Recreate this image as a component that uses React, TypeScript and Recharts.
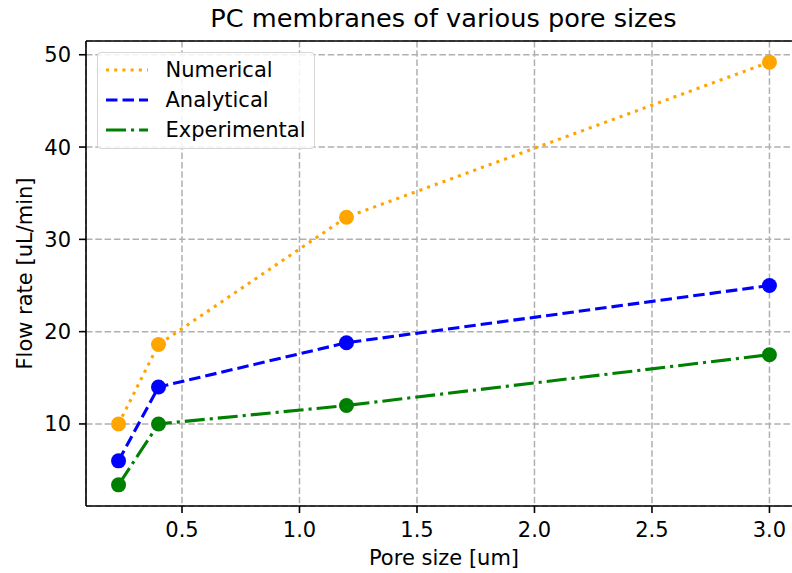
import { LineChart, Line, XAxis, YAxis, CartesianGrid, Legend, ReferenceLine } from "recharts";

// pore size [um] and flow rates [uL/min]
const poreSizes = [0.23, 0.4, 1.2, 3.0];
const numerical = [10.0, 18.6, 32.4, 49.2];
const analytical = [6.0, 14.0, 18.8, 25.0];
const experimental = [3.4, 10.0, 12.0, 17.5];

const xTicks = [0.5, 1.0, 1.5, 2.0, 2.5, 3.0];
const yTicks = [10, 20, 30, 40, 50];

const seriesNames = ["Numerical", "Analytical", "Experimental"];

const data = poreSizes.map((x, i) => ({
  x,
  num: numerical[i],
  ana: analytical[i],
  exp: experimental[i],
}));

// matplotlib-style 5% padding around the data
const pad = (lo: number, hi: number): [number, number] => {
  const m = (hi - lo) * 0.05;
  return [lo - m, hi + m];
};
const xDomain = pad(Math.min(...poreSizes), Math.max(...poreSizes));
const allY = [...numerical, ...analytical, ...experimental];
const yDomain = pad(Math.min(...allY), Math.max(...allY));

const FONT = "DejaVu Sans, sans-serif";

const series = [
  { key: "num", name: seriesNames[0], color: "#FFA500", dash: "3.1 5.1" },
  { key: "ana", name: seriesNames[1], color: "#0000FF", dash: "11.5 5" },
  { key: "exp", name: seriesNames[2], color: "#008000", dash: "20 5 3.1 5" },
];

const LegendBox = () => (
  <div
    style={{
      boxSizing: "border-box",
      width: 218,
      height: 97,
      border: "1px solid #d6d6d6",
      borderRadius: 4,
      background: "rgba(255,255,255,0.85)",
      paddingTop: 2,
      paddingLeft: 8,
      fontFamily: FONT,
      fontSize: 21,
      color: "#000",
    }}
  >
    {series.map((s) => (
      <div key={s.key} style={{ height: 30, display: "flex", alignItems: "center" }}>
        <svg width={42} height={10} style={{ display: "block" }}>
          <line x1={0} y1={5} x2={42} y2={5} stroke={s.color} strokeWidth={3.1} strokeDasharray={s.dash} />
        </svg>
        <span style={{ marginLeft: 18, lineHeight: "30px" }}>{s.name}</span>
      </div>
    ))}
  </div>
);

export default function App() {
  return (
    <div style={{ position: "fixed", left: 0, top: 0, width: 792, height: 573, overflow: "hidden", background: "#fff" }}>
      <svg width={792} height={40} style={{ position: "absolute", left: 0, top: 0 }}>
        <text x={443.5} y={27.3} textAnchor="middle" fontFamily={FONT} fontSize={25.6} fill="#000">
          PC membranes of various pore sizes
        </text>
      </svg>
      <LineChart width={810} height={573} data={data} margin={{ top: 41, right: 8, bottom: 0, left: 0 }}>
        <CartesianGrid stroke="#b0b0b0" strokeWidth={1.5} strokeDasharray="6.5 2.8" />
        <XAxis
          dataKey="x"
          type="number"
          domain={xDomain}
          ticks={xTicks}
          allowDataOverflow
          tickFormatter={(v: number) => v.toFixed(1)}
          height={67}
          tickSize={7}
          tickMargin={9}
          stroke="#000"
          strokeWidth={1.6}
          tick={{ fill: "#000", fontSize: 21, fontFamily: FONT }}
          label={{
            content: (props: any) => {
              const vb = props.viewBox;
              return (
                <text x={vb.x + vb.width / 2} y={565} textAnchor="middle" fontFamily={FONT} fontSize={21} fill="#000">
                  Pore size [um]
                </text>
              );
            },
          }}
        />
        <YAxis
          type="number"
          domain={yDomain}
          ticks={yTicks}
          allowDataOverflow
          width={86}
          tickSize={7}
          tickMargin={8}
          stroke="#000"
          strokeWidth={1.6}
          tick={{ fill: "#000", fontSize: 21, fontFamily: FONT }}
          label={{
            content: (props: any) => {
              const vb = props.viewBox;
              const cy = vb.y + vb.height / 2;
              return (
                <text x={31.5} y={cy} transform={`rotate(-90 31.5 ${cy})`} textAnchor="middle" fontFamily={FONT} fontSize={21} fill="#000">
                  Flow rate [uL/min]
                </text>
              );
            },
          }}
        />
        <ReferenceLine y={yDomain[1]} stroke="#000" strokeWidth={1.6} ifOverflow="visible" />
        <ReferenceLine x={xDomain[1]} stroke="#000" strokeWidth={1.6} ifOverflow="visible" />
        {series.map((s) => (
          <Line
            key={s.key}
            dataKey={s.key}
            name={s.name}
            type="linear"
            stroke={s.color}
            strokeWidth={3.1}
            strokeDasharray={s.dash}
            dot={{ r: 7.5, fill: s.color, stroke: "none", strokeDasharray: "none" }}
            activeDot={false}
            isAnimationActive={false}
          />
        ))}
        <Legend
          layout="vertical"
          align="center"
          verticalAlign="middle"
          content={() => <LegendBox />}
          wrapperStyle={{ left: 96.5, top: 52, right: "auto", bottom: "auto", width: "auto", height: "auto" }}
        />
      </LineChart>
    </div>
  );
}
